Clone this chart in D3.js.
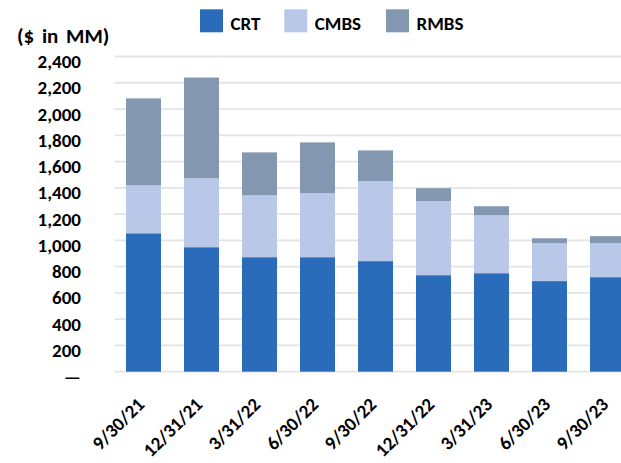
<!DOCTYPE html>
<html>
<head>
<meta charset="utf-8">
<script src="https://cdn.jsdelivr.net/npm/d3@7"></script>
<style>
  html, body { margin: 0; padding: 0; background: #fff; }
  text { font-family: Calibri, Carlito, "Open Sans", sans-serif; font-weight: bold; fill: #000; }
</style>
</head>
<body>
<div id="chart"></div>
<script>
(function (d3) {
    'use strict';

    const dates = ['9/30/21', '12/31/21', '3/31/22', '6/30/22', '9/30/22',
                   '12/31/22', '3/31/23', '6/30/23', '9/30/23'];
    const crt  = [1054, 948, 872, 872, 842, 735, 750, 690, 720];
    const cmbs = [365, 525, 471, 487, 608, 563, 441, 288, 258];
    const rmbs = [662, 767, 327, 387, 235, 99, 69, 38, 54];
    const yTicks = [0, 200, 400, 600, 800, 1000, 1200, 1400, 1600, 1800, 2000, 2200, 2400];
    const seriesNames = ['CRT', 'CMBS', 'RMBS'];
    const colors = ['#2B6CBA', '#B9C7E8', '#8497B0'];

    var width = 621,
        height = 463,
        left = 114.5,
        right = 636.5,
        top = 56.5,
        bottom = 371.7;

    var svg = d3.select('#chart').append('svg')
        .attr('width', width)
        .attr('height', height);

    var table = dates.map(function (d, i) {
        return { date: d, CRT: crt[i], CMBS: cmbs[i], RMBS: rmbs[i] };
    });

    var x = d3.scaleBand().domain(dates).range([left, right]).paddingInner(23 / 58).paddingOuter(11.5 / 58);
    var y = d3.scaleLinear().domain([0, 2400]).range([bottom, top]);

    // gridlines
    svg.append('g').selectAll('line').data(yTicks).enter()
        .append('line')
            .attr('x1', left)
            .attr('x2', width)
            .attr('y1', function (d) { return y(d); })
            .attr('y2', function (d) { return y(d); })
            .attr('stroke', '#E4E4E4')
            .attr('stroke-width', 1.8);

    // y labels
    var yAxis = d3.axisLeft(y).tickValues(yTicks).tickSize(0).tickPadding(0)
        .tickFormat(function (d) { return d === 0 ? '\u2014' : d3.format(',')(d); });
    var ya = svg.append('g').attr('transform', 'translate(81,5)').call(yAxis);
    ya.select('.domain').remove();
    ya.selectAll('text').style('font-size', '19px').attr('fill', '#000');

    // bars
    var stacked = d3.stack().keys(seriesNames)(table);
    svg.append('g').selectAll('g').data(stacked).enter()
        .append('g')
            .attr('fill', function (d, i) { return colors[i]; })
        .selectAll('rect').data(function (d) { return d; }).enter()
        .append('rect')
            .attr('x', function (d) { return x(d.data.date); })
            .attr('y', function (d) { return y(d[1]); })
            .attr('width', x.bandwidth())
            .attr('height', function (d) { return y(d[0]) - y(d[1]); });

    // x labels
    var xAxis = d3.axisBottom(x).tickSize(0).tickPadding(0);
    var xa = svg.append('g').attr('transform', 'translate(0,' + bottom + ')').call(xAxis);
    xa.select('.domain').remove();
    xa.selectAll('text')
        .style('font-size', '19px')
        .attr('fill', '#000')
        .attr('text-anchor', 'end')
        .attr('dy', 0)
        .attr('y', 0)
        .attr('transform', 'translate(2,34) rotate(-45)');

    // unit title
    svg.append('text')
        .attr('x', 17)
        .attr('y', 43)
        .style('font-size', '21px')
        .style('word-spacing', '3px')
        .text('($ in MM)');

    // legend
    var legendX = [200, 284.3, 386];
    var lg = svg.append('g').selectAll('g').data(seriesNames).enter()
        .append('g')
            .attr('transform', function (d, i) { return 'translate(' + legendX[i] + ',9.3)'; });
    lg.append('rect')
        .attr('width', 23)
        .attr('height', 23)
        .attr('fill', function (d, i) { return colors[i]; });
    lg.append('text')
        .attr('x', 30.5)
        .attr('y', 20.7)
        .style('font-size', '19px')
        .text(function (d) { return d; });
})(d3);
</script>
</body>
</html>
